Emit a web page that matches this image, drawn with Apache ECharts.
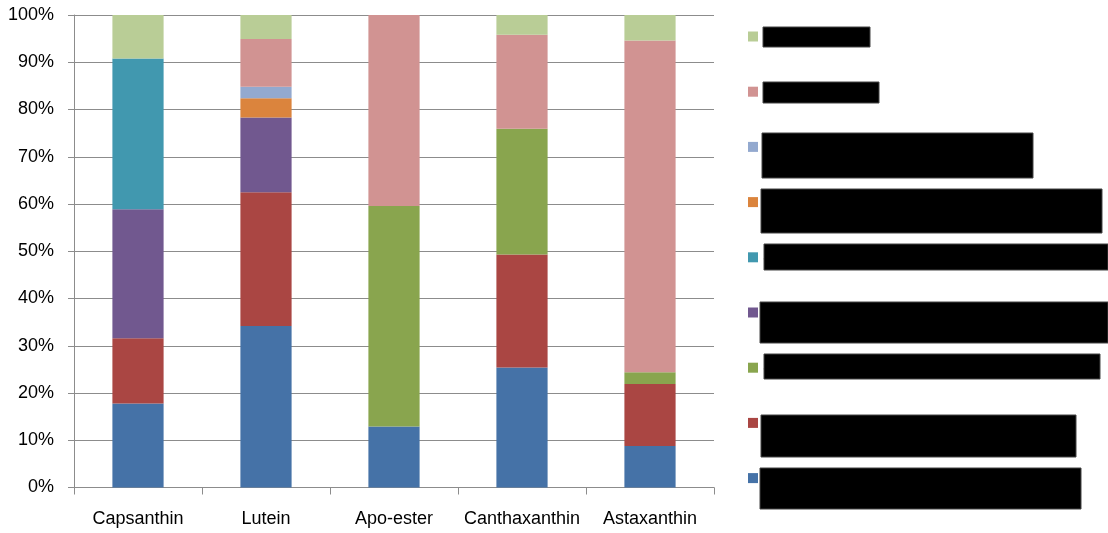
<!DOCTYPE html>
<html>
<head>
<meta charset="utf-8">
<script src="https://cdn.jsdelivr.net/npm/echarts@6/dist/echarts.min.js"></script>
<style>
html,body{margin:0;padding:0;background:#fff;}
#chart{width:1108px;height:533px;}
</style>
</head>
<body>
<div id="chart"></div>
<script>
var categories = ['Capsanthin', 'Lutein', 'Apo-ester', 'Canthaxanthin', 'Astaxanthin'];
var yTicks = [0, 10, 20, 30, 40, 50, 60, 70, 80, 90, 100];

// Series from bottom of stack to top (percent of total)
var seriesNames = ['Series 1', 'Series 2', 'Series 3', 'Series 4', 'Series 5', 'Series 6', 'Series 7', 'Series 8', 'Series 9'];
var s1 = [17.8, 34.2, 12.9, 25.4, 8.8];
var s2 = [13.8, 28.3, 0, 23.9, 13.1];
var s3 = [0, 0, 46.7, 26.6, 2.5];
var s4 = [27.3, 15.8, 0, 0, 0];
var s5 = [31.9, 0, 0, 0, 0];
var s6 = [0, 4.1, 0, 0, 0];
var s7 = [0, 2.4, 0, 0, 0];
var s8 = [0, 10.1, 40.4, 19.9, 70.2];
var s9 = [9.2, 5.1, 0, 4.2, 5.4];
var seriesValues = [s1, s2, s3, s4, s5, s6, s7, s8, s9];
var colors = ['#4572A7', '#AA4643', '#89A54E', '#71588F', '#4198AF', '#DB843D', '#93A9CF', '#D19392', '#B9CD96'];

// Redaction boxes over the legend labels [x, y, w, h]
var redactions = [
  [763, 27, 107, 20],
  [763, 82, 116, 21],
  [762, 133, 271, 45],
  [761, 189, 341, 44],
  [764, 244, 344, 26],
  [760, 302, 348, 41],
  [764, 354, 336, 25],
  [761, 415, 315, 42],
  [760, 468, 321, 41]
];

var chart = echarts.init(document.getElementById('chart'), null, {renderer: 'canvas'});
var font = 'Liberation Sans, Arial, sans-serif';

var series = seriesValues.map(function (vals, i) {
  return {
    name: seriesNames[i],
    type: 'bar',
    stack: 'total',
    barWidth: '40%',
    data: vals,
    itemStyle: {color: colors[i]},
    emphasis: {disabled: true}
  };
});

var option = {
  animation: false,
  color: colors,
  textStyle: {fontFamily: font},
  grid: {left: 74, right: 394, top: 15, bottom: 45.5, containLabel: false},
  legend: {
    orient: 'vertical',
    left: 748,
    top: 30.5,
    padding: 0,
    itemWidth: 10,
    itemHeight: 10,
    itemGap: 43.2,
    icon: 'rect',
    data: seriesNames.slice().reverse(),
    textStyle: {fontSize: 12, lineHeight: 12, color: '#000', fontFamily: font},
    selectedMode: false
  },
  xAxis: {
    type: 'category',
    data: categories,
    axisLine: {lineStyle: {color: '#8c8c8c', width: 1}},
    axisTick: {show: true, length: 7, alignWithLabel: false, lineStyle: {color: '#8c8c8c'}},
    axisLabel: {color: '#000', fontSize: 18, margin: 23, fontFamily: font, interval: 0}
  },
  yAxis: {
    type: 'value',
    min: yTicks[0],
    max: yTicks[yTicks.length - 1],
    interval: 10,
    axisLine: {show: true, lineStyle: {color: '#8c8c8c', width: 1}},
    axisTick: {show: true, length: 6, lineStyle: {color: '#8c8c8c'}},
    splitLine: {show: true, lineStyle: {color: '#8c8c8c', width: 1}},
    axisLabel: {color: '#000', fontSize: 18, margin: 20, fontFamily: font, formatter: '{value}%'}
  },
  graphic: redactions.map(function (r) {
    return {
      type: 'rect',
      z: 100,
      shape: {x: r[0], y: r[1], width: r[2], height: r[3]},
      style: {fill: '#000', stroke: '#444', lineWidth: 1}
    };
  }),
  series: series
};

chart.setOption(option);
</script>
</body>
</html>
